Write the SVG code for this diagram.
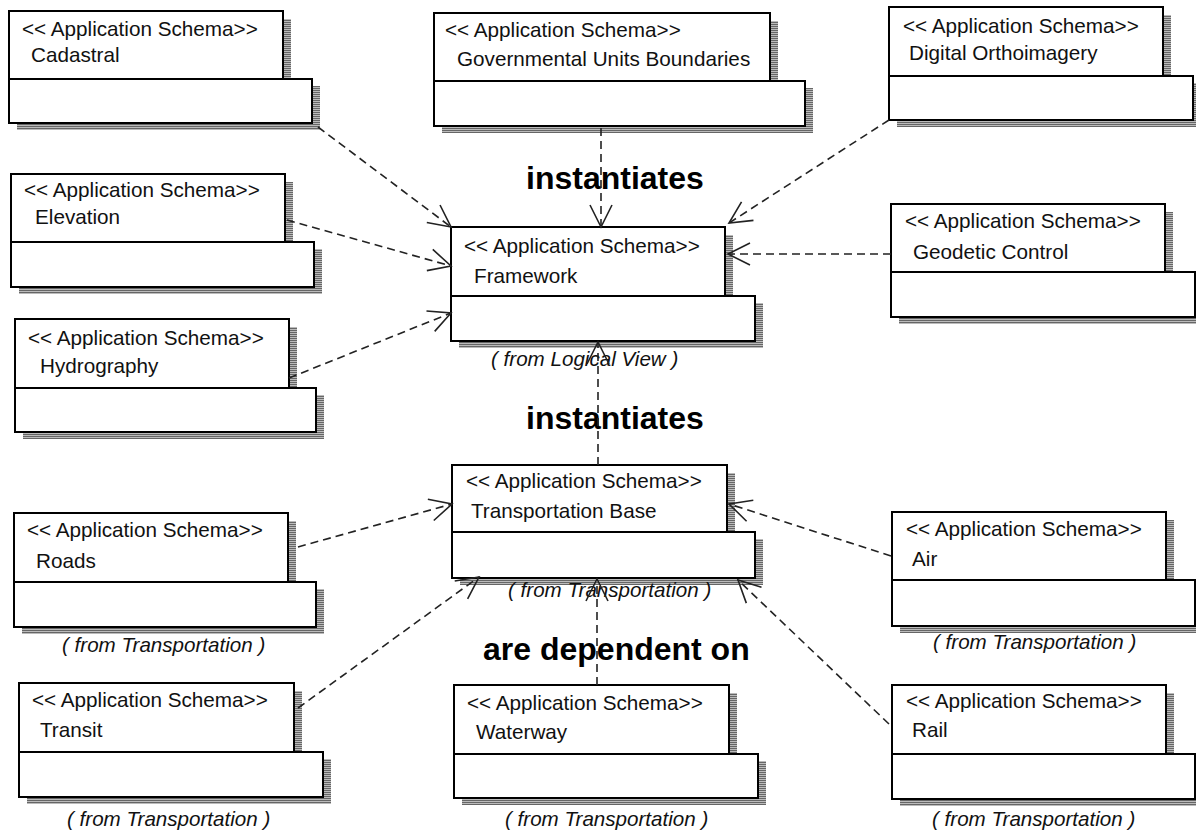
<svg xmlns="http://www.w3.org/2000/svg" width="1196" height="833" viewBox="0 0 1196 833">
<style>
.bg{fill:#fff}
.sh{fill:url(#hatch)}
.box{fill:#fff;stroke:#000;stroke-width:2}
.st{font-family:"Liberation Sans",Arial,sans-serif;font-size:20.7px;fill:#111}
.fr{font-family:"Liberation Sans",Arial,sans-serif;font-size:20.6px;font-style:italic;fill:#111}
.big{font-family:"Liberation Sans",Arial,sans-serif;font-size:32px;font-weight:bold;fill:#000}
.dep{fill:none;stroke:#222;stroke-width:1.6;stroke-dasharray:8 5;marker-end:url(#arr)}
</style>
<defs>
<pattern id="hatch" width="4" height="2" patternUnits="userSpaceOnUse">
<rect width="4" height="1" fill="#666"/>
<rect y="1" width="4" height="1" fill="#bbb"/>
</pattern>
<marker id="arr" markerUnits="userSpaceOnUse" markerWidth="30" markerHeight="30" viewBox="-26 -15 30 30" refX="0" refY="0" orient="auto" overflow="visible">
<path d="M-22,-11 L0,0 L-22,11" fill="none" stroke="#222" stroke-width="1.6" stroke-dasharray="none"/>
</marker>
</defs>
<rect class="bg" width="1196" height="833"/>

<g id="cadastral">
<rect class="sh" x="17" y="19" width="274" height="68"/>
<rect class="sh" x="17" y="86" width="303" height="44"/>
<rect class="box" x="9" y="11" width="274" height="68"/>
<rect class="box" x="9" y="79" width="303" height="44"/>
<text class="st" x="22" y="36">&lt;&lt; Application Schema&gt;&gt;</text>
<text class="st" x="31" y="62">Cadastral</text>
</g>

<g id="governmental-units-boundaries">
<rect class="sh" x="442" y="21" width="336" height="68"/>
<rect class="sh" x="442" y="88" width="371" height="45"/>
<rect class="box" x="434" y="13" width="336" height="68"/>
<rect class="box" x="434" y="81" width="371" height="45"/>
<text class="st" x="445" y="37">&lt;&lt; Application Schema&gt;&gt;</text>
<text class="st" x="457" y="66">Governmental Units Boundaries</text>
</g>

<g id="digital-orthoimagery">
<rect class="sh" x="897" y="15" width="274" height="69"/>
<rect class="sh" x="897" y="83" width="304" height="44"/>
<rect class="box" x="889" y="7" width="274" height="69"/>
<rect class="box" x="889" y="76" width="304" height="44"/>
<text class="st" x="903" y="33">&lt;&lt; Application Schema&gt;&gt;</text>
<text class="st" x="909" y="60">Digital Orthoimagery</text>
</g>

<g id="elevation">
<rect class="sh" x="19" y="182" width="274" height="68"/>
<rect class="sh" x="19" y="249" width="303" height="45"/>
<rect class="box" x="11" y="174" width="274" height="68"/>
<rect class="box" x="11" y="242" width="303" height="45"/>
<text class="st" x="24" y="197">&lt;&lt; Application Schema&gt;&gt;</text>
<text class="st" x="35" y="224">Elevation</text>
</g>

<g id="framework">
<rect class="sh" x="459" y="235" width="274" height="69"/>
<rect class="sh" x="459" y="303" width="304" height="45"/>
<rect class="box" x="451" y="227" width="274" height="69"/>
<rect class="box" x="451" y="296" width="304" height="45"/>
<text class="st" x="464" y="253">&lt;&lt; Application Schema&gt;&gt;</text>
<text class="st" x="474" y="283">Framework</text>
<text class="fr" x="491" y="366">( from Logical View )</text>
</g>

<g id="geodetic-control">
<rect class="sh" x="899" y="212" width="274" height="68"/>
<rect class="sh" x="899" y="279" width="304" height="45"/>
<rect class="box" x="891" y="204" width="274" height="68"/>
<rect class="box" x="891" y="272" width="304" height="45"/>
<text class="st" x="905" y="228">&lt;&lt; Application Schema&gt;&gt;</text>
<text class="st" x="913" y="259">Geodetic Control</text>
</g>

<g id="hydrography">
<rect class="sh" x="23" y="327" width="274" height="69"/>
<rect class="sh" x="23" y="395" width="301" height="44"/>
<rect class="box" x="15" y="319" width="274" height="69"/>
<rect class="box" x="15" y="388" width="301" height="44"/>
<text class="st" x="28" y="345">&lt;&lt; Application Schema&gt;&gt;</text>
<text class="st" x="40" y="373">Hydrography</text>
</g>

<g id="transportation-base">
<rect class="sh" x="460" y="473" width="275" height="67"/>
<rect class="sh" x="460" y="539" width="303" height="46"/>
<rect class="box" x="452" y="465" width="275" height="67"/>
<rect class="box" x="452" y="532" width="303" height="46"/>
<text class="st" x="466" y="488">&lt;&lt; Application Schema&gt;&gt;</text>
<text class="st" x="471" y="518">Transportation Base</text>
<text class="fr" x="508" y="597">( from Transportation )</text>
</g>

<g id="roads">
<rect class="sh" x="22" y="521" width="274" height="69"/>
<rect class="sh" x="22" y="589" width="302" height="45"/>
<rect class="box" x="14" y="513" width="274" height="69"/>
<rect class="box" x="14" y="582" width="302" height="45"/>
<text class="st" x="27" y="537">&lt;&lt; Application Schema&gt;&gt;</text>
<text class="st" x="36" y="568">Roads</text>
<text class="fr" x="62" y="652">( from Transportation )</text>
</g>

<g id="air">
<rect class="sh" x="900" y="520" width="274" height="68"/>
<rect class="sh" x="900" y="587" width="303" height="46"/>
<rect class="box" x="892" y="512" width="274" height="68"/>
<rect class="box" x="892" y="580" width="303" height="46"/>
<text class="st" x="906" y="536">&lt;&lt; Application Schema&gt;&gt;</text>
<text class="st" x="912" y="566">Air</text>
<text class="fr" x="933" y="649">( from Transportation )</text>
</g>

<g id="transit">
<rect class="sh" x="27" y="691" width="275" height="69"/>
<rect class="sh" x="27" y="759" width="304" height="45"/>
<rect class="box" x="19" y="683" width="275" height="69"/>
<rect class="box" x="19" y="752" width="304" height="45"/>
<text class="st" x="32" y="707">&lt;&lt; Application Schema&gt;&gt;</text>
<text class="st" x="40" y="737">Transit</text>
<text class="fr" x="67" y="826">( from Transportation )</text>
</g>

<g id="waterway">
<rect class="sh" x="462" y="693" width="275" height="69"/>
<rect class="sh" x="462" y="761" width="304" height="44"/>
<rect class="box" x="454" y="685" width="275" height="69"/>
<rect class="box" x="454" y="754" width="304" height="44"/>
<text class="st" x="467" y="710">&lt;&lt; Application Schema&gt;&gt;</text>
<text class="st" x="476" y="739">Waterway</text>
<text class="fr" x="505" y="826">( from Transportation )</text>
</g>

<g id="rail">
<rect class="sh" x="900" y="693" width="274" height="69"/>
<rect class="sh" x="900" y="761" width="303" height="45"/>
<rect class="box" x="892" y="685" width="274" height="69"/>
<rect class="box" x="892" y="754" width="303" height="45"/>
<text class="st" x="906" y="708">&lt;&lt; Application Schema&gt;&gt;</text>
<text class="st" x="912" y="737">Rail</text>
<text class="fr" x="932" y="826">( from Transportation )</text>
</g>

<g id="labels">
<text class="big" x="526" y="189">instantiates</text>
<text class="big" x="526" y="429">instantiates</text>
<text class="big" x="483" y="660">are dependent on</text>
</g>

<g id="connectors">
<path class="dep" d="M318,127 L451,227"/>
<path class="dep" d="M601,128 L601,227"/>
<path class="dep" d="M889,120 L729,223"/>
<path class="dep" d="M287,220 L451,266"/>
<path class="dep" d="M289,378 L451,313"/>
<path class="dep" d="M891,254 L728,254"/>
<path class="dep" d="M598,465 L598,342"/>
<path class="dep" d="M298,547 L452,504"/>
<path class="dep" d="M298,708 L479,577"/>
<path class="dep" d="M597,685 L597,579"/>
<path class="dep" d="M891,556 L729,504"/>
<path class="dep" d="M889,724 L738,580"/>
</g>
</svg>
